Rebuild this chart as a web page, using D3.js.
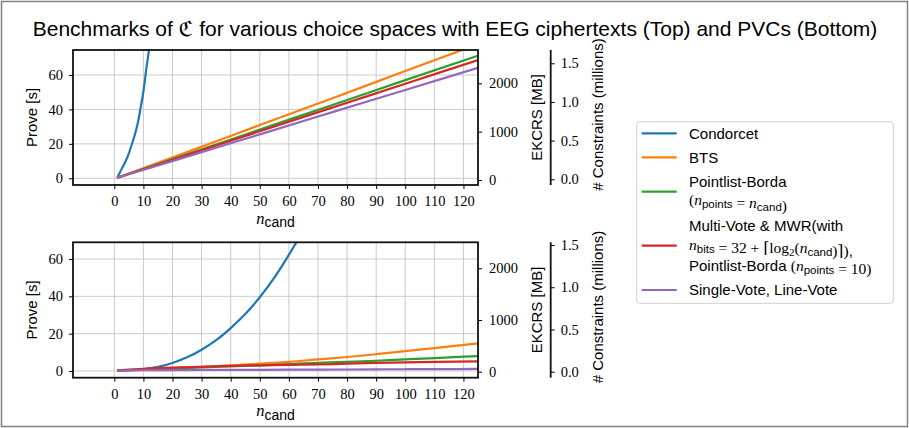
<!DOCTYPE html>
<html>
<head>
<meta charset="utf-8">
<script src="https://cdn.jsdelivr.net/npm/d3@7"></script>
<style>
  body { margin: 0; background: #fff; }
  svg { display: block; }
</style>
</head>
<body>
<script>
// --- dati ---
const seriesNames = ["Condorcet", "BTS", "Pointlist-Borda", "Multi-Vote", "Single-Vote"];
const colors = ["#1f77b4", "#ff7f0e", "#2ca02c", "#d62728", "#9467bd"];

const xTicks = [0, 10, 20, 30, 40, 50, 60, 70, 80, 90, 100, 110, 120];
const proveTicks = [0, 20, 40, 60];
const ekcrsTicks = [0, 1000, 2000];
const constrTicks = [0, 0.5, 1.0, 1.5];

// Top (EEG ciphertexts)
const topCondN = [1, 2, 3, 4, 5, 6, 7, 8, 9, 10, 11, 12, 13];
const topCond = [0.3, 3.6, 7.0, 10.3, 14.5, 19.6, 25.0, 31.5, 40.5, 50.4, 63.5, 75.5, 89.0];
const topN = [1, 25, 50, 75, 100, 125];
const topBTS = [0.3, 15.2, 30.9, 46.5, 62.3, 77.9];
const topBorda = [0.3, 13.9, 28.3, 42.6, 57.0, 71.2];
const topMulti = [0.3, 13.5, 27.3, 41.1, 54.9, 68.7];
const topSingle = [0.3, 12.6, 25.5, 38.4, 51.3, 64.2];

// Bottom (PVCs)
const botCondN = [1, 5, 10, 15, 20, 25, 30, 35, 40, 45, 50, 55, 60, 65];
const botCond = [0.1, 0.3, 0.9, 2.2, 4.3, 7.3, 11.4, 16.5, 23.0, 30.5, 39.5, 50.0, 62.2, 75.5];
const botN = [1, 10, 20, 30, 40, 50, 60, 70, 80, 90, 100, 110, 125];
const botBTS = [0.3, 0.9, 1.5, 2.2, 3.0, 3.9, 4.9, 6.2, 7.5, 9.0, 10.6, 12.3, 14.8];
const botBorda = [0.3, 0.8, 1.3, 1.9, 2.5, 3.0, 3.7, 4.4, 4.9, 5.5, 6.2, 6.9, 8.0];
const botMulti = [0.3, 1.2, 1.8, 2.2, 2.7, 3.0, 3.3, 3.5, 3.9, 4.3, 4.6, 4.9, 5.2];
const botSingle = [0.2, 0.4, 0.5, 0.55, 0.6, 0.65, 0.7, 0.75, 0.8, 0.9, 0.95, 1.0, 1.1];

const W = 909, H = 428;
const serif = "'Liberation Serif', 'DejaVu Serif', serif";
const sans = "'Liberation Sans', 'DejaVu Sans', sans-serif";

const svg = d3.select("body").append("svg")
  .attr("width", W).attr("height", H);

// cornice esterna
svg.append("rect")
  .attr("x", 1.5).attr("y", 1.5).attr("width", W - 3).attr("height", H - 3)
  .attr("fill", "#fff").attr("stroke", "#808080").attr("stroke-width", 1.5);

// titolo
svg.append("text")
  .attr("x", 455).attr("y", 36)
  .attr("text-anchor", "middle")
  .style("font-family", sans).style("font-size", "21px")
  .text("Benchmarks of \u212D for various choice spaces with EEG ciphertexts (Top) and PVCs (Bottom)");

const left = 73, right = 478, axis3 = 550.7;

const xScale = d3.scaleLinear().domain([-14.2, 125]).range([left, right]);

// n con pedice (sub in sans)
function nSub(sel, sub, size, subSize) {
  sel.append("tspan").style("font-family", serif).style("font-style", "italic")
    .style("font-size", size + "px").text("n");
  sel.append("tspan").style("font-family", sans).style("font-size", subSize + "px")
    .attr("dy", size * 0.2).text(sub);
  sel.append("tspan").attr("dy", -size * 0.2).style("font-size", size + "px").text("");
}

function panel(cfg) {
  const { top, bottom, proveDom, ekDom, coDom, lines, id } = cfg;
  const y = d3.scaleLinear().domain(proveDom).range([bottom, top]);
  const yEk = d3.scaleLinear().domain(ekDom).range([bottom, top]);
  const yCo = d3.scaleLinear().domain(coDom).range([bottom, top]);

  const g = svg.append("g");

  // griglia
  g.append("g").selectAll("line").data(xTicks).join("line")
    .attr("x1", d => xScale(d)).attr("x2", d => xScale(d))
    .attr("y1", top).attr("y2", bottom)
    .attr("stroke", "#cbcbcb").attr("stroke-width", 1);
  g.append("g").selectAll("line").data(proveTicks).join("line")
    .attr("x1", left).attr("x2", right)
    .attr("y1", d => y(d)).attr("y2", d => y(d))
    .attr("stroke", "#cbcbcb").attr("stroke-width", 1);

  // clip
  svg.append("clipPath").attr("id", id)
    .append("rect").attr("x", left).attr("y", top)
    .attr("width", right - left).attr("height", bottom - top);

  const line = d3.line().curve(d3.curveMonotoneX).x(d => xScale(d[0])).y(d => y(d[1]));
  g.append("g").attr("clip-path", `url(#${id})`)
    .selectAll("path").data(lines).join("path")
    .attr("d", d => line(d.n.map((n, i) => [n, d.v[i]])))
    .attr("fill", "none")
    .attr("stroke", (d, i) => colors[i])
    .attr("stroke-width", 2.2)
    .attr("stroke-linejoin", "round");

  // assi
  const styleAxis = a => {
    a.selectAll("text").style("font-family", serif).style("font-size", "14.5px").attr("fill", "#000");
    a.selectAll(".tick line").attr("stroke", "#000").attr("stroke-width", 1);
    a.select(".domain").remove();
  };

  g.append("g").attr("transform", `translate(0,${bottom})`)
    .call(d3.axisBottom(xScale).tickValues(xTicks).tickSize(4).tickPadding(7).tickFormat(d3.format("d")))
    .call(styleAxis);

  g.append("g").attr("transform", `translate(${left},0)`)
    .call(d3.axisLeft(y).tickValues(proveTicks).tickSize(4).tickPadding(6).tickFormat(d3.format("d")))
    .call(styleAxis);

  g.append("g").attr("transform", `translate(${right},0)`)
    .call(d3.axisRight(yEk).tickValues(ekcrsTicks).tickSize(4).tickPadding(7).tickFormat(d3.format("d")))
    .call(styleAxis);

  g.append("g").attr("transform", `translate(${axis3},0)`)
    .call(d3.axisRight(yCo).tickValues(constrTicks).tickSize(4).tickPadding(6).tickFormat(d3.format(".1f")))
    .call(styleAxis);

  // cornice del grafico
  g.append("rect").attr("x", left).attr("y", top)
    .attr("width", right - left).attr("height", bottom - top)
    .attr("fill", "none").attr("stroke", "#111").attr("stroke-width", 1.8);
  g.append("line").attr("x1", axis3).attr("x2", axis3)
    .attr("y1", top).attr("y2", bottom)
    .attr("stroke", "#111").attr("stroke-width", 1.8);

  // etichette
  const mid = (top + bottom) / 2;
  g.append("text").attr("transform", `translate(37,${mid}) rotate(-90)`)
    .attr("text-anchor", "middle")
    .style("font-family", sans).style("font-size", "15px")
    .text("Prove [s]");
  g.append("text").attr("transform", `translate(541.5,${mid}) rotate(-90)`)
    .attr("text-anchor", "middle")
    .style("font-family", sans).style("font-size", "15px")
    .text("EKCRS [MB]");
  g.append("text").attr("transform", `translate(603,${mid - 3}) rotate(-90)`)
    .attr("text-anchor", "middle")
    .style("font-family", sans).style("font-size", "15px")
    .text("# Constraints (millions)");

  const xl = g.append("text").attr("x", (left + right) / 2).attr("y", bottom + 38.5)
    .attr("text-anchor", "middle");
  nSub(xl, "cand", 16.5, 14);
}

panel({
  id: "clipTop", top: 50, bottom: 185,
  proveDom: [-3.9, 74.5], ekDom: [-103, 2689], coDom: [-0.074, 1.672],
  lines: [
    { n: topCondN, v: topCond },
    { n: topN, v: topBTS },
    { n: topN, v: topBorda },
    { n: topN, v: topMulti },
    { n: topN, v: topSingle }
  ]
});

panel({
  id: "clipBot", top: 242.3, bottom: 377.7,
  proveDom: [-3.59, 68.95], ekDom: [-116, 2503], coDom: [-0.071, 1.532],
  lines: [
    { n: botCondN, v: botCond },
    { n: botN, v: botBTS },
    { n: botN, v: botBorda },
    { n: botN, v: botMulti },
    { n: botN, v: botSingle }
  ]
});

// --- legenda ---
const lg = svg.append("g");
lg.append("rect").attr("x", 636.7).attr("y", 121.7)
  .attr("width", 256.6).attr("height", 181.6).attr("rx", 3)
  .attr("fill", "#fff").attr("stroke", "#d0d0d0").attr("stroke-width", 1);

const legendY = [133.3, 157.3, 191.7, 245.7, 290];
lg.selectAll("line.key").data(seriesNames).join("line")
  .attr("class", "key")
  .attr("x1", 641.7).attr("x2", 676.7)
  .attr("y1", (d, i) => legendY[i]).attr("y2", (d, i) => legendY[i])
  .attr("stroke", (d, i) => colors[i]).attr("stroke-width", 2.2);

const tx = 689, fs = 15, ms = 15.5;
function ltext(yb) {
  return lg.append("text").attr("x", tx).attr("y", yb)
    .style("font-family", sans).style("font-size", fs + "px");
}
function mt(t, s) {
  return t.append("tspan").style("font-family", serif).style("font-size", ms + "px").text(s);
}
ltext(138.5).text("Condorcet");
ltext(162.5).text("BTS");
ltext(187).text("Pointlist-Borda");
{
  const t = ltext(205);
  mt(t, "(");
  nSub(t, "points", ms, 11.5);
  mt(t, " = ");
  nSub(t, "cand", ms, 11.5);
  mt(t, ")");
}
ltext(230.5).text("Multi-Vote & MWR(with");
{
  const t = ltext(249.5);
  nSub(t, "bits", ms, 11.5);
  mt(t, " = 32 + \u2308log");
  t.append("tspan").style("font-family", serif).style("font-size", "11px").attr("dy", 3).text("2");
  mt(t, "(").attr("dy", -3);
  nSub(t, "cand", ms, 11.5);
  mt(t, ")\u2309)");
  t.append("tspan").text(",");
}
{
  const t = ltext(271);
  t.append("tspan").text("Pointlist-Borda ");
  mt(t, "(");
  nSub(t, "points", ms, 11.5);
  mt(t, " = 10)");
}
ltext(295).text("Single-Vote, Line-Vote");
</script>
</body>
</html>
